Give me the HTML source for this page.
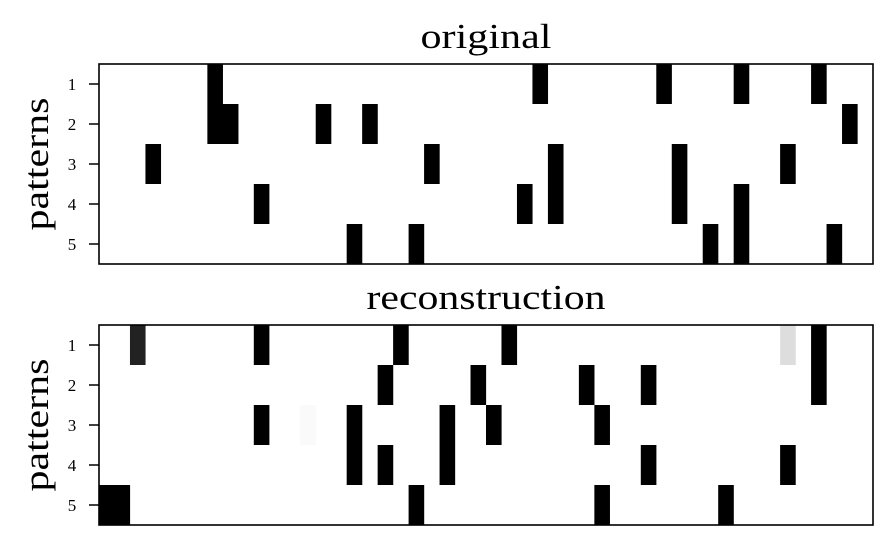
<!DOCTYPE html>
<html><head><style>body{margin:0;background:#fff}svg{display:block}</style></head><body>
<svg width="893" height="546" xmlns="http://www.w3.org/2000/svg" font-family="Liberation Serif, serif">
<rect width="893" height="546" fill="#fff"/>
<text x="486" y="48" font-size="35" text-anchor="middle" textLength="131" lengthAdjust="spacingAndGlyphs">original</text>
<text x="486" y="309" font-size="35" text-anchor="middle" textLength="239" lengthAdjust="spacingAndGlyphs">reconstruction</text>
<g fill="#000">
<rect x="207.36" y="64" width="15.6" height="40"/><rect x="532.44" y="64" width="15.6" height="40"/><rect x="656.28" y="64" width="15.6" height="40"/><rect x="733.68" y="64" width="15.6" height="40"/><rect x="811.08" y="64" width="15.6" height="40"/>
<rect x="207.36" y="104" width="31.1" height="40"/><rect x="315.72" y="104" width="15.6" height="40"/><rect x="362.16" y="104" width="15.6" height="40"/><rect x="842.04" y="104" width="15.6" height="40"/>
<rect x="145.44" y="144" width="15.6" height="40"/><rect x="424.08" y="144" width="15.6" height="40"/><rect x="547.92" y="144" width="15.6" height="80"/><rect x="671.76" y="144" width="15.6" height="80"/><rect x="780.12" y="144" width="15.6" height="40"/>
<rect x="253.8" y="184" width="15.6" height="40"/><rect x="516.96" y="184" width="15.6" height="40"/><rect x="733.68" y="184" width="15.6" height="80"/>
<rect x="346.68" y="224" width="15.6" height="40"/><rect x="408.6" y="224" width="15.6" height="40"/><rect x="702.72" y="224" width="15.6" height="40"/><rect x="826.56" y="224" width="15.6" height="40"/>
<rect x="129.96" y="325" width="15.6" height="40" fill="#222"/><rect x="253.8" y="325" width="15.6" height="40"/><rect x="393.12" y="325" width="15.6" height="40"/><rect x="501.48" y="325" width="15.6" height="40"/><rect x="780.12" y="325" width="15.6" height="40" fill="#ddd"/><rect x="811.08" y="325" width="15.6" height="80"/>
<rect x="377.64" y="365" width="15.6" height="40"/><rect x="470.52" y="365" width="15.6" height="40"/><rect x="578.88" y="365" width="15.6" height="40"/><rect x="640.8" y="365" width="15.6" height="40"/>
<rect x="253.8" y="405" width="15.6" height="40"/><rect x="300.24" y="405" width="15.6" height="40" fill="#fafafa"/><rect x="346.68" y="405" width="15.6" height="80"/><rect x="439.56" y="405" width="15.6" height="80"/><rect x="486" y="405" width="15.6" height="40"/><rect x="594.36" y="405" width="15.6" height="40"/>
<rect x="377.64" y="445" width="15.6" height="40"/><rect x="640.8" y="445" width="15.6" height="40"/><rect x="780.12" y="445" width="15.6" height="40"/>
<rect x="99" y="485" width="31.1" height="40"/><rect x="408.6" y="485" width="15.6" height="40"/><rect x="594.36" y="485" width="15.6" height="40"/><rect x="718.2" y="485" width="15.6" height="40"/>
</g>
<g fill="none" stroke="#000" stroke-width="1.6">
<rect x="99" y="64" width="774" height="200"/>
<rect x="99" y="325" width="774" height="200"/>
<path d="M89 84H99M89 124H99M89 164H99M89 204H99M89 244H99M89 345H99M89 385H99M89 425H99M89 465H99M89 505H99"/>
</g>
<g font-size="17" text-anchor="middle">
<text x="72" y="90">1</text><text x="72" y="130">2</text><text x="72" y="170">3</text><text x="72" y="210">4</text><text x="72" y="250">5</text>
<text x="72" y="351">1</text><text x="72" y="391">2</text><text x="72" y="431">3</text><text x="72" y="471">4</text><text x="72" y="511">5</text>
</g>
<text transform="translate(48,164) rotate(-90)" font-size="35" text-anchor="middle" textLength="133" lengthAdjust="spacingAndGlyphs">patterns</text>
<text transform="translate(48,425) rotate(-90)" font-size="35" text-anchor="middle" textLength="133" lengthAdjust="spacingAndGlyphs">patterns</text>
</svg>
</body></html>
